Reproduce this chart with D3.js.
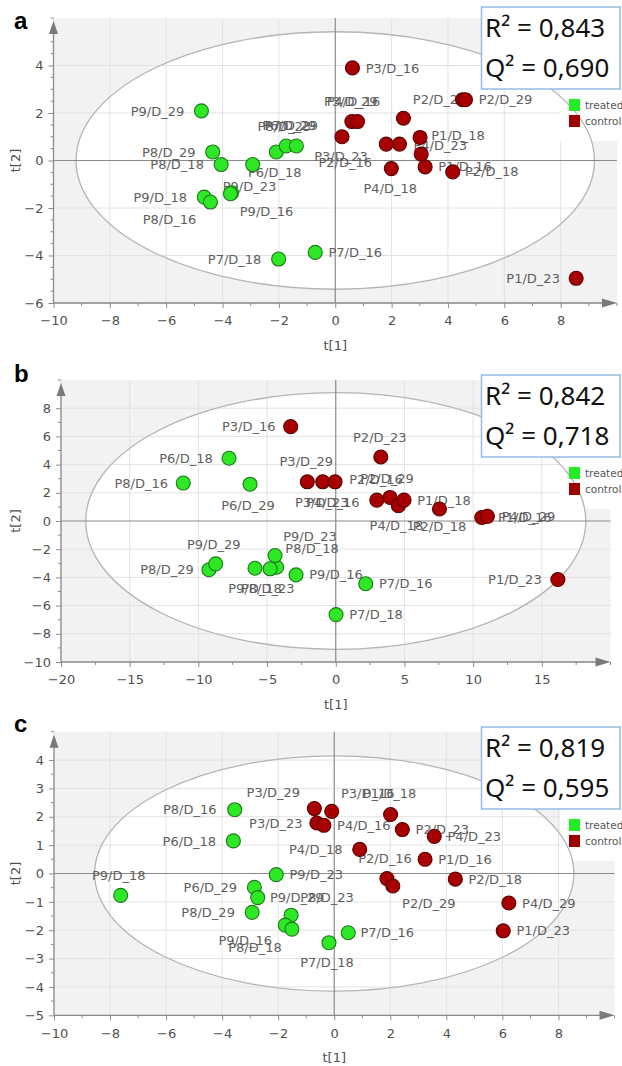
<!DOCTYPE html>
<html>
<head>
<meta charset="UTF-8">
<title>PCA score plots</title>
<script src="https://cdnjs.cloudflare.com/ajax/libs/d3/7.8.5/d3.min.js"></script>
<style>
  body { margin: 0; background: #fff; }
  svg { display: block; }
</style>
</head>
<body>
<svg id="chart" width="622" height="1066"></svg>
<script>
// ---- data ----
// [sample, t[1], t[2]]
const treatedA = [
  ["P9/D_29", -4.75, 2.09], ["P8/D_29", -4.35, 0.36], ["P8/D_18", -4.05, -0.17],
  ["P6/D_18", -2.93, -0.17], ["P9/D_16", -3.68, -1.36], ["P9/D_23", -3.72, -1.40],
  ["P9/D_18", -4.65, -1.54], ["P8/D_16", -4.43, -1.75], ["P8/D_23", -2.09, 0.36],
  ["P6/D_29", -1.74, 0.61], ["P7/D_29", -1.38, 0.61], ["P7/D_18", -2.01, -4.15],
  ["P7/D_16", -0.71, -3.87]
];
const controlA = [
  ["P3/D_16", 0.61, 3.90], ["P2/D_23", 4.52, 2.56], ["P2/D_29", 4.62, 2.56],
  ["P3/D_29", 0.59, 1.64], ["P4/D_16", 0.79, 1.64], ["", 2.42, 1.78],
  ["P3/D_23", 0.24, 1.00], ["P2/D_16", 1.81, 0.69], ["", 2.28, 0.69],
  ["P1/D_18", 3.01, 0.97], ["P4/D_23", 3.05, 0.27], ["P4/D_18", 1.99, -0.34],
  ["P1/D_16", 3.19, -0.27], ["P2/D_18", 4.17, -0.48], ["P1/D_23", 8.55, -4.96]
];
const treatedB = [
  ["P8/D_16", -11.1, 2.69], ["P6/D_18", -7.77, 4.45], ["P6/D_29", -6.24, 2.61],
  ["P8/D_29", -9.23, -3.46], ["P9/D_29", -8.74, -3.04], ["P9/D_18", -5.88, -3.35],
  ["P8/D_23", -4.30, -3.28], ["P9/D_23", -4.42, -2.45], ["P8/D_18", -4.78, -3.39],
  ["P9/D_16", -2.89, -3.82], ["P7/D_16", 2.18, -4.45], ["P7/D_18", 0.02, -6.64]
];
const controlB = [
  ["P3/D_16", -3.28, 6.69], ["P2/D_23", 3.28, 4.54], ["P3/D_29", -2.07, 2.78],
  ["P3/D_23", -0.95, 2.78], ["P2/D_16", -0.05, 2.78], ["P4/D_16", 2.99, 1.48],
  ["P2/D_29", 3.95, 1.67], ["P4/D_18", 4.56, 1.08], ["P1/D_18", 4.97, 1.48],
  ["P2/D_18", 7.55, 0.85], ["P1/D_16", 10.63, 0.25], ["P4/D_29", 11.04, 0.33],
  ["P1/D_23", 16.17, -4.15]
];
const treatedC = [
  ["P8/D_16", -3.55, 2.25], ["P6/D_18", -3.60, 1.15], ["P9/D_18", -7.62, -0.77],
  ["P9/D_23", -2.07, -0.04], ["P6/D_29", -2.85, -0.49], ["P9/D_29", -2.73, -0.85],
  ["P8/D_29", -2.93, -1.37], ["P8/D_23", -1.54, -1.47], ["P9/D_16", -1.75, -1.82],
  ["P8/D_18", -1.51, -1.96], ["P7/D_16", 0.50, -2.09], ["P7/D_18", -0.19, -2.44]
];
const controlC = [
  ["P3/D_29", -0.71, 2.29], ["P3/D_16", -0.09, 2.19], ["P3/D_23", -0.62, 1.78],
  ["P4/D_16", -0.37, 1.70], ["P1/D_18", 2.01, 2.08], ["P2/D_23", 2.43, 1.55],
  ["P4/D_23", 3.57, 1.31], ["P4/D_18", 0.91, 0.85], ["P1/D_16", 3.24, 0.50],
  ["P2/D_18", 4.32, -0.20], ["P2/D_16", 1.88, -0.18], ["P2/D_29", 2.09, -0.44],
  ["P4/D_29", 6.23, -1.04], ["P1/D_23", 6.03, -2.02]
];

// Hotelling T2 ellipse half axes [t1, t2]
const ellipseA = [9.2, 5.42];
const ellipseB = [18.2, 9.1];
const ellipseC = [8.55, 4.15];

const r2 = ["0,843", "0,842", "0,819"];
const q2 = ["0,690", "0,718", "0,595"];

const xDomainA = [-10, 10], yDomainA = [-6, 6];
const xDomainB = [-20, 20], yDomainB = [-10, 10];
const xDomainC = [-10, 10], yDomainC = [-5, 5];
const xTicksA = [-10, -8, -6, -4, -2, 0, 2, 4, 6, 8];
const yTicksA = [-6, -4, -2, 0, 2, 4];
const xTicksB = [-20, -15, -10, -5, 0, 5, 10, 15];
const yTicksB = [-10, -8, -6, -4, -2, 0, 2, 4, 6, 8];
const xTicksC = [-10, -8, -6, -4, -2, 0, 2, 4, 6, 8];
const yTicksC = [-5, -4, -3, -2, -1, 0, 1, 2, 3, 4];

const legendNames = ["treated", "control"];

// label placement relative to the point, in px (like the software put them)
const labelOffA = {
  "P9/D_29": [-44, 0], "P8/D_29": [-44, 0], "P8/D_18": [-44, 0], "P6/D_18": [22, 8],
  "P9/D_23": [19, -7], "P9/D_16": [35, 18], "P9/D_18": [-44, 0], "P8/D_16": [-41, 17],
  "P8/D_23": [8, -26], "P6/D_29": [3, -21], "P7/D_29": [-5, -21], "P7/D_18": [-44, 0],
  "P7/D_16": [40, 0],
  "P3/D_16": [40, 0], "P2/D_23": [-23, 0], "P2/D_29": [40, 0], "P3/D_29": [-1, -20],
  "P4/D_16": [-4, -20], "P3/D_23": [-1, 20], "P2/D_16": [-41, 18], "P1/D_18": [38, -2],
  "P4/D_23": [19, -9], "P4/D_18": [-1, 20], "P1/D_16": [40, -1], "P2/D_18": [39, -1],
  "P1/D_23": [-43, 0]
};
const labelOffB = {
  "P8/D_16": [-42, 0], "P6/D_18": [-43, 0], "P6/D_29": [-2, 21], "P8/D_29": [-42, 0],
  "P9/D_29": [-2, -20], "P9/D_18": [0, 20], "P8/D_23": [-9, 21], "P9/D_23": [35, -19],
  "P8/D_18": [42, -20], "P9/D_16": [40, -1], "P7/D_16": [40, 0], "P7/D_18": [40, 0],
  "P3/D_16": [-42, 0], "P2/D_23": [-1, -20], "P3/D_29": [-1, -21], "P3/D_23": [-1, 20],
  "P2/D_16": [41, -3], "P4/D_16": [-44, 2], "P2/D_29": [-3, -19], "P4/D_18": [-2, 20],
  "P1/D_18": [40, 0], "P2/D_18": [0, 17], "P1/D_16": [43, 0], "P4/D_29": [41, 0],
  "P1/D_23": [-43, 0]
};
const labelOffC = {
  "P8/D_16": [-45, 0], "P6/D_18": [-44, 0], "P9/D_18": [-2, -20], "P9/D_23": [40, 0],
  "P6/D_29": [-44, 0], "P9/D_29": [39, 0], "P8/D_29": [-44, 0], "P8/D_23": [36, -18],
  "P9/D_16": [-40, 15], "P8/D_18": [-37, 18], "P7/D_16": [39, 0], "P7/D_18": [-2, 20],
  "P3/D_29": [-41, -16], "P3/D_16": [36, -18], "P3/D_23": [-41, 0], "P4/D_16": [40, 0],
  "P1/D_18": [-1, -21], "P2/D_23": [40, 0], "P4/D_23": [40, 0], "P4/D_18": [-44, 0],
  "P1/D_16": [40, 0], "P2/D_18": [40, 0], "P2/D_16": [-2, -20], "P2/D_29": [36, 17],
  "P4/D_29": [40, 0], "P1/D_23": [40, 0]
};

// ---- layout ----
const panels = [
  { letter: "a", treated: treatedA, control: controlA, offs: labelOffA, ellipse: ellipseA,
    xDomain: xDomainA, yDomain: yDomainA, xTicks: xTicksA, yTicks: yTicksA, xMinor: 1, yMinor: 0.5,
    left: 53.5, right: 617, top: 18, bottom: 303, boxTop: 7, letterY: 29, stat: 0 },
  { letter: "b", treated: treatedB, control: controlB, offs: labelOffB, ellipse: ellipseB,
    xDomain: xDomainB, yDomain: yDomainB, xTicks: xTicksB, yTicks: yTicksB, xMinor: 2.5, yMinor: 1,
    left: 61, right: 610.5, top: 380, bottom: 662, boxTop: 375, letterY: 382, stat: 1 },
  { letter: "c", treated: treatedC, control: controlC, offs: labelOffC, ellipse: ellipseC,
    xDomain: xDomainC, yDomain: yDomainC, xTicks: xTicksC, yTicks: yTicksC, xMinor: 1, yMinor: 0.5,
    left: 54, right: 614.5, top: 731.7, bottom: 1015.3, boxTop: 727, letterY: 732, stat: 2 }
];

const font = "'DejaVu Sans', sans-serif";
const axisCol = "#8a8a8a";
const green = "#2ee826", greenEdge = "#1c7a18";
const red = "#a80000", redEdge = "#5a0000";

const svg = d3.select("#chart");

function drawPanel(p) {
  const x = d3.scaleLinear().domain(p.xDomain).range([p.left, p.right]);
  const y = d3.scaleLinear().domain(p.yDomain).range([p.bottom, p.top]);
  const g = svg.append("g");

  // plot background and ellipse inside
  g.append("rect")
    .attr("x", p.left).attr("y", p.top)
    .attr("width", p.right - p.left).attr("height", p.bottom - p.top)
    .attr("fill", "#f2f2f2");
  const rx = x(p.ellipse[0]) - x(0), ry = y(0) - y(p.ellipse[1]);
  g.append("ellipse")
    .attr("cx", x(0)).attr("cy", y(0)).attr("rx", rx).attr("ry", ry)
    .attr("fill", "#fff");

  // grid
  g.selectAll(".gx").data(p.xTicks.filter(d => d !== 0)).enter().append("line")
    .attr("x1", d => x(d)).attr("x2", d => x(d))
    .attr("y1", p.top).attr("y2", p.bottom)
    .attr("stroke", "#e2e2e2");
  g.selectAll(".gy").data(p.yTicks.filter(d => d !== 0)).enter().append("line")
    .attr("x1", p.left).attr("x2", p.right)
    .attr("y1", d => y(d)).attr("y2", d => y(d))
    .attr("stroke", "#e2e2e2");

  // white area behind legend
  const legX = 569;
  const boxBottom = p.boxTop + 82;
  g.append("rect")
    .attr("x", 560).attr("y", p.top)
    .attr("width", p.right - 560).attr("height", boxBottom + 52 - p.top)
    .attr("fill", "#fff");

  g.append("ellipse")
    .attr("cx", x(0)).attr("cy", y(0)).attr("rx", rx).attr("ry", ry)
    .attr("fill", "none").attr("stroke", "#b4b4b4").attr("stroke-width", 1.3);

  // zero lines
  g.append("line").attr("x1", x(0)).attr("x2", x(0)).attr("y1", p.top).attr("y2", p.bottom)
    .attr("stroke", axisCol).attr("stroke-width", 1.2);
  g.append("line").attr("x1", p.left).attr("x2", p.right).attr("y1", y(0)).attr("y2", y(0))
    .attr("stroke", axisCol).attr("stroke-width", 1.2);

  // axes
  const xAxis = g.append("g").attr("transform", `translate(0,${p.bottom})`)
    .call(d3.axisBottom(x).tickValues(p.xTicks).tickSize(5).tickSizeOuter(0).tickPadding(8));
  const yAxis = g.append("g").attr("transform", `translate(${p.left},0)`)
    .call(d3.axisLeft(y).tickValues(p.yTicks).tickSize(5).tickSizeOuter(0).tickPadding(5));
  [xAxis, yAxis].forEach(a => {
    a.select(".domain").remove();
    a.selectAll("line").attr("stroke", axisCol);
    a.selectAll("text").attr("font-family", font).attr("font-size", 13).attr("fill", "#505050");
  });
  const xm = d3.range(p.xDomain[0], p.xDomain[1] + 1e-9, p.xMinor).filter(v => !p.xTicks.includes(v));
  const ym = d3.range(p.yDomain[0], p.yDomain[1] + 1e-9, p.yMinor).filter(v => !p.yTicks.includes(v));
  g.selectAll(".mx").data(xm).enter().append("line")
    .attr("x1", d => x(d)).attr("x2", d => x(d)).attr("y1", p.bottom).attr("y2", p.bottom + 3)
    .attr("stroke", axisCol);
  g.selectAll(".my").data(ym).enter().append("line")
    .attr("x1", p.left - 3).attr("x2", p.left).attr("y1", d => y(d)).attr("y2", d => y(d))
    .attr("stroke", axisCol);

  g.append("line").attr("x1", p.left).attr("x2", p.right - 8).attr("y1", p.bottom).attr("y2", p.bottom)
    .attr("stroke", axisCol).attr("stroke-width", 1.3);
  g.append("line").attr("x1", p.left).attr("x2", p.left).attr("y1", p.bottom).attr("y2", p.top + 10)
    .attr("stroke", axisCol).attr("stroke-width", 1.3);
  g.append("path")
    .attr("d", `M${p.right},${p.bottom} L${p.right - 15},${p.bottom - 4.5} L${p.right - 15},${p.bottom + 4.5} Z`)
    .attr("fill", "#7a7a7a");
  g.append("path")
    .attr("d", `M${p.left},${p.top + 3} L${p.left - 4.5},${p.top + 16} L${p.left + 4.5},${p.top + 16} Z`)
    .attr("fill", "#7a7a7a");

  // axis titles and panel letter
  g.append("text").attr("x", (p.left + p.right) / 2).attr("y", p.bottom + 47)
    .attr("text-anchor", "middle").attr("font-family", font).attr("font-size", 13)
    .attr("fill", "#505050").text("t[1]");
  g.append("text")
    .attr("transform", `translate(20,${(p.top + p.bottom) / 2}) rotate(-90)`)
    .attr("text-anchor", "middle").attr("font-family", font).attr("font-size", 13)
    .attr("fill", "#505050").text("t[2]");
  g.append("text").attr("x", 14).attr("y", p.letterY)
    .attr("font-family", "'Liberation Sans', Arial, sans-serif").attr("font-weight", "bold")
    .attr("font-size", 24).attr("fill", "#000").text(p.letter);

  // sample labels then points
  const pts = p.treated.map(d => ({ name: d[0], t1: d[1], t2: d[2], grp: 0 }))
    .concat(p.control.map(d => ({ name: d[0], t1: d[1], t2: d[2], grp: 1 })));
  g.selectAll(".lab").data(pts.filter(d => p.offs[d.name])).enter().append("text")
    .attr("x", d => x(d.t1) + p.offs[d.name][0])
    .attr("y", d => y(d.t2) + p.offs[d.name][1] + 4.7)
    .attr("text-anchor", "middle").attr("font-family", font).attr("font-size", 13)
    .attr("fill", "#5e5e5e").text(d => d.name);
  g.selectAll(".pt").data(pts).enter().append("circle")
    .attr("cx", d => x(d.t1)).attr("cy", d => y(d.t2)).attr("r", 7)
    .attr("fill", d => d.grp ? red : green)
    .attr("stroke", d => d.grp ? redEdge : greenEdge).attr("stroke-width", 1.1);

  // legend
  legendNames.forEach((n, i) => {
    const ly = boxBottom + 10 + i * 16;
    g.append("rect").attr("x", legX).attr("y", ly).attr("width", 11).attr("height", 12)
      .attr("fill", i ? "#a00000" : "#22ee22");
    g.append("text").attr("x", legX + 16).attr("y", ly + 10)
      .attr("font-family", font).attr("font-size", 10.5).attr("fill", "#555").text(n);
  });

  // R2 / Q2 box
  g.append("rect").attr("x", 481.5).attr("y", p.boxTop).attr("width", 138.5).attr("height", 82)
    .attr("fill", "#fff").attr("stroke", "#93bde6").attr("stroke-width", 1.5);
  g.append("text").attr("x", 485).attr("y", p.boxTop + 30)
    .attr("font-family", "'Noto Sans', sans-serif").attr("font-size", 26).attr("fill", "#111")
    .text(`R² = ${r2[p.stat]}`);
  g.append("text").attr("x", 485).attr("y", p.boxTop + 70)
    .attr("font-family", "'Noto Sans', sans-serif").attr("font-size", 26).attr("fill", "#111")
    .text(`Q² = ${q2[p.stat]}`);
}

panels.forEach(drawPanel);
</script>
</body>
</html>
